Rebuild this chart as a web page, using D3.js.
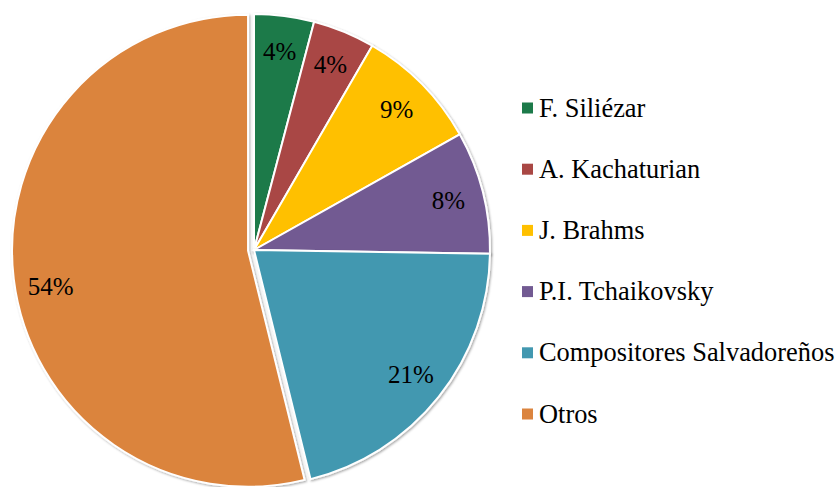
<!DOCTYPE html>
<html><head><meta charset="utf-8">
<script src="https://cdn.jsdelivr.net/npm/d3@7"></script>
<style>html,body{margin:0;padding:0;background:#fff;}svg{display:block;}
text{font-family:'Liberation Serif','Times New Roman',serif;fill:#000;}</style>
</head><body>
<svg id="c" width="840" height="487"></svg>
<script>
const categories = ["F. Siliézar","A. Kachaturian","J. Brahms","P.I. Tchaikovsky","Compositores Salvadoreños","Otros"];
const values = [4.1, 4.25, 8.5, 8.4, 20.9, 53.85];
const labels = ["4%","4%","9%","8%","21%","54%"];
const colors = ["#1C7A4A","#A94744","#FFC000","#725A92","#4298B0","#DB843E"];

const svg = d3.select("#c");
const defs = svg.append("defs");
const f = defs.append("filter").attr("id","sh").attr("x","-10%").attr("y","-10%").attr("width","120%").attr("height","120%");
f.append("feDropShadow").attr("dx",1.2).attr("dy",1.2).attr("stdDeviation",1.3).attr("flood-color","#000").attr("flood-opacity",0.35);

const cx = 254, cy = 250, r = 236;
// styling: explode the last (largest) slice, and nudge its label like the source's best-fit placement
const explodeLast = 6, lastLabelAngleShift = -0.06;
const pie = d3.pie().sort(null).value(d => d.v).startAngle(0).endAngle(2*Math.PI);
const data = categories.map((c,i)=>({c, v: values[i], l: labels[i], col: colors[i]}));
const arcs = pie(data);
const arc = d3.arc().innerRadius(0).outerRadius(r);
const lr = r*0.85;

const g = svg.append("g").attr("transform",`translate(${cx},${cy})`);
const slices = g.selectAll("g.s").data(arcs).join("g").attr("class","s")
  .attr("transform", (d,i) => {
    const e = i === arcs.length-1 ? explodeLast : 0;
    const m = (d.startAngle + d.endAngle)/2;
    return `translate(${Math.sin(m)*e},${-Math.cos(m)*e})`;
  });
slices.append("path").attr("d", arc).attr("fill", d => d.data.col)
  .attr("stroke","#fff").attr("stroke-width",2).attr("filter","url(#sh)");
slices.append("text")
  .attr("transform", (d,i) => {
    let m = (d.startAngle + d.endAngle)/2;
    if (i === arcs.length-1) m += lastLabelAngleShift;
    return `translate(${Math.sin(m)*lr},${-Math.cos(m)*lr+8.5})`;
  })
  .attr("text-anchor","middle")
  .style("font-size","25px").text(d => d.data.l);

const legend = svg.append("g").attr("transform","translate(522,108)");
const y = d3.scalePoint().domain(categories).range([0, 306]);
const items = legend.selectAll("g").data(data).join("g").attr("transform", d => `translate(0,${y(d.c)})`);
items.append("rect").attr("x",0).attr("y",-5.5).attr("width",11).attr("height",11).attr("fill", d => d.col);
items.append("text").attr("x",17).attr("y",8.5)
  .style("font-size","26.4px").text(d => d.c);
</script>
</body></html>
